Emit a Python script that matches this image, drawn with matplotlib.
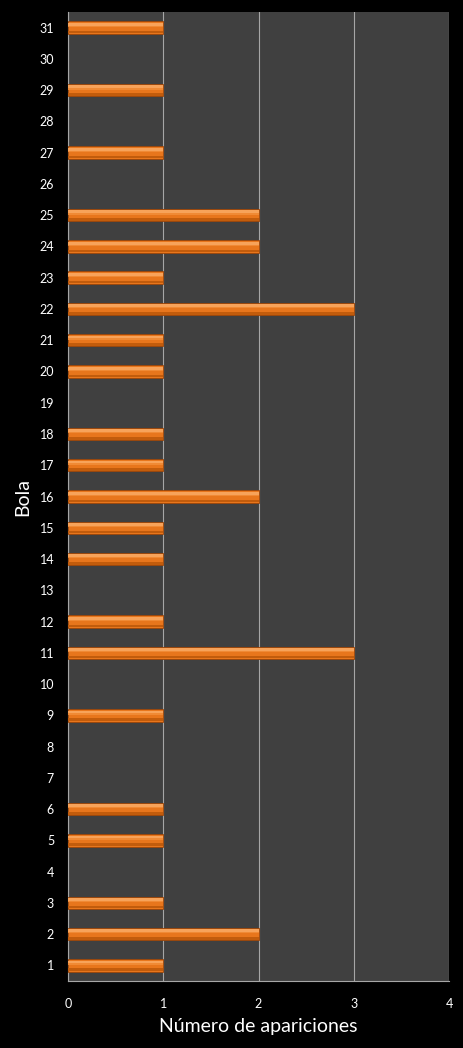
import matplotlib.pyplot as plt
import numpy as np

plt.rcParams['font.family'] = ['Lato', 'DejaVu Sans']

bolas = list(range(1, 32))
apariciones = [1, 2, 1, 0, 1, 1, 0, 0, 1, 0, 3, 1, 0, 1, 1, 2,
               1, 1, 0, 1, 1, 3, 1, 2, 2, 0, 1, 0, 1, 0, 1]

fig = plt.figure(figsize=(4.63, 10.48), dpi=100, facecolor='black')
ax = fig.add_axes([68 / 463, 1 - 981 / 1048, (449 - 68) / 463, (981 - 12) / 1048])
ax.set_facecolor('#404040')

y = np.arange(len(bolas))
vals = np.array(apariciones, dtype=float)
mask = vals > 0
yy, vv = y[mask], vals[mask]

# bar body + soft bands to fake the bevel look
ax.barh(yy, vv, height=0.40, color='#E8761C', edgecolor='#9A4508', linewidth=0.6, zorder=3)
ax.barh(yy + 0.10, vv, height=0.10, color='#F7A35A', linewidth=0, zorder=4)
ax.barh(yy + 0.04, vv, height=0.04, color='#F08A35', linewidth=0, zorder=4)
ax.barh(yy - 0.14, vv, height=0.08, color='#C25C0C', linewidth=0, zorder=4)

ax.set_xlim(0, 4)
ax.set_ylim(-0.5, len(bolas) - 0.5)
ax.set_xticks([0, 1, 2, 3, 4])
ax.set_yticks(y)
ax.set_yticklabels([str(b) for b in bolas])
ax.grid(axis='x', color='#A6A6A6', linewidth=0.8, zorder=1)
ax.set_axisbelow(True)

for s in ['top', 'right']:
    ax.spines[s].set_visible(False)
ax.spines['left'].set_color('#A6A6A6')
ax.spines['bottom'].set_color('#A6A6A6')
ax.tick_params(colors='white', labelsize=9, length=0, pad=10)
ax.tick_params(axis='x', pad=12)

ax.set_xlabel('Número de apariciones', color='white', fontsize=14, labelpad=6)
ax.set_ylabel('Bola', color='white', fontsize=14, labelpad=6)

fig.savefig('out.png', dpi=100, facecolor='black')
